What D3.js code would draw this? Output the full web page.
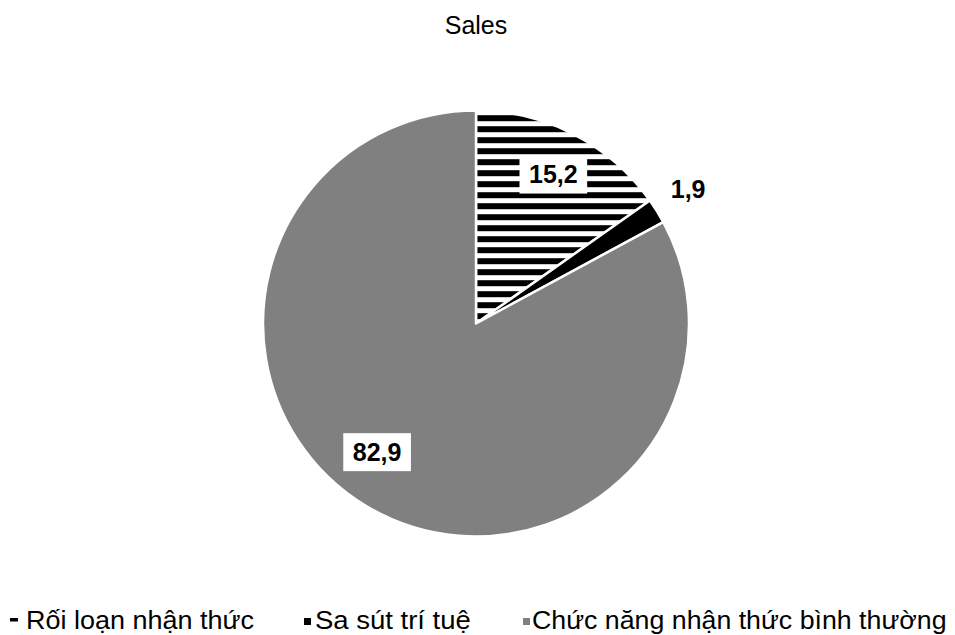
<!DOCTYPE html>
<html>
<head>
<meta charset="utf-8">
<script src="https://cdn.jsdelivr.net/npm/d3@7"></script>
<style>
  html, body { margin: 0; padding: 0; background: #fff; }
  svg { display: block; }
  text { font-family: "Liberation Sans", Arial, sans-serif; }
</style>
</head>
<body>
<svg id="chart" width="955" height="635"></svg>
<script>
// ---- data ----
const title = "Sales";
const categories = ["Rối loạn nhận thức", "Sa sút trí tuệ", "Chức năng nhận thức bình thường"];
const values = [15.2, 1.9, 82.9];
const valueLabels = ["15,2", "1,9", "82,9"];

// ---- styling / layout ----
const W = 955, H = 635;
const cx = 476, cy = 323.5, R = 213;
const fills = ["url(#stripes)", "#000000", "#808080"];
// label placement: radius (fraction of R), angle nudge (radians), boxed
const labelCfg = [
  { r: 0.79, da: 0.0, box: true },
  { r: 1.18, da: -0.01, box: false },
  { r: 0.76, da: 0.12, box: true }
];
const legendMarkerX = [10, 304, 523];
const legendTextX = [26, 315, 532];
const legendStretch = [1.08, 1.1, 1.07];

const svg = d3.select("#chart");
const defs = svg.append("defs");
const pat = defs.append("pattern")
  .attr("id", "stripes")
  .attr("patternUnits", "userSpaceOnUse")
  .attr("x", 0).attr("y", 0.7)
  .attr("width", 20).attr("height", 11);
pat.append("rect").attr("width", 20).attr("height", 11).attr("fill", "#fff");
pat.append("rect").attr("y", 0).attr("width", 20).attr("height", 6).attr("fill", "#000");

// title
svg.append("text")
  .attr("x", cx).attr("y", 33.5)
  .attr("text-anchor", "middle")
  .attr("font-size", 25)
  .attr("fill", "#000")
  .text(title);

const pie = d3.pie().sort(null).value(d => d);
const arcs = pie(values);
const arc = d3.arc().innerRadius(0).outerRadius(R);

const g = svg.append("g").attr("transform", `translate(${cx},${cy})`);
g.selectAll("path.slice")
  .data(arcs)
  .join("path")
  .attr("class", "slice")
  .attr("d", arc)
  .attr("fill", (d, i) => fills[i])
  .attr("stroke", "#fff")
  .attr("stroke-width", 2.5)
  .attr("stroke-linejoin", "round");

// labels
arcs.forEach((d, i) => {
  const cfg = labelCfg[i];
  const lr = R * cfg.r;
  const la = d3.arc().innerRadius(lr).outerRadius(lr);
  const [x, y] = la.centroid({ startAngle: d.startAngle + cfg.da, endAngle: d.endAngle + cfg.da });
  const lg = g.append("g");
  const t = lg.append("text")
    .attr("x", x).attr("y", y)
    .attr("text-anchor", "middle")
    .attr("dominant-baseline", "central")
    .attr("font-size", 25)
    .attr("font-weight", "bold")
    .attr("fill", "#000")
    .text(valueLabels[i]);
  if (cfg.box) {
    const bb = t.node().getBBox();
    lg.insert("rect", "text")
      .attr("x", bb.x - 9.5).attr("y", bb.y + 0.5 - 5)
      .attr("width", bb.width + 19).attr("height", bb.height + 10)
      .attr("fill", "#fff");
  }
});

// legend
const leg = svg.append("g");
categories.forEach((c, i) => {
  const x = legendMarkerX[i];
  if (i === 0) {
    leg.append("rect").attr("x", x).attr("y", 618).attr("width", 8).attr("height", 3.5).attr("fill", "#000");
  } else {
    leg.append("rect").attr("x", x).attr("y", 618).attr("width", 7).attr("height", 7).attr("fill", fills[i]);
  }
  leg.append("text")
    .attr("transform", `translate(${legendTextX[i]},629) scale(${legendStretch[i]},1)`)
    .attr("font-size", 25)
    .attr("fill", "#000")
    .text(c);
});
</script>
</body>
</html>
